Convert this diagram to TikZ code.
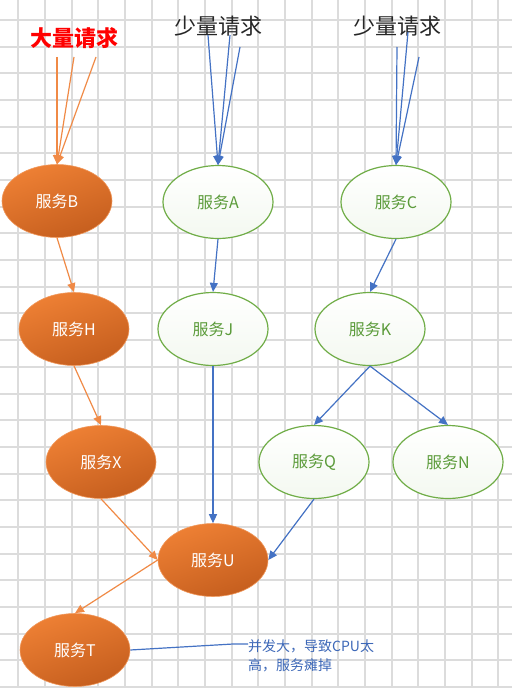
\documentclass[tikz,border=0pt]{standalone}
\usepackage{fontspec}
\setmainfont{Noto Sans CJK SC}
\usetikzlibrary{arrows.meta,shapes.geometric}
\definecolor{gridc}{HTML}{DCDCDC}
\definecolor{orgA}{HTML}{EE8034}
\definecolor{orgB}{HTML}{C55E1E}
\definecolor{orgLine}{HTML}{F08A46}
\definecolor{blueLine}{HTML}{4472C4}
\definecolor{grnB}{HTML}{70AD47}
\definecolor{grnT}{HTML}{5B9B3A}
\definecolor{noteC}{HTML}{3D68B8}
\tikzset{
  hot/.style={ellipse, minimum width=110pt, minimum height=73pt, inner sep=0pt,
    draw=orgA!80!white, line width=0.6pt, top color=orgA, bottom color=orgB, shading angle=20,
    text=white, font=\fontsize{16}{18}\selectfont},
  cool/.style={ellipse, minimum width=110pt, minimum height=73pt, inner sep=0pt,
    draw=grnB, line width=1.2pt, top color=white, bottom color=grnB!8!white,
    text=grnT, font=\fontsize{16}{18}\selectfont},
  hotarrow/.style={draw=orgLine, line width=1.2pt, -{Triangle[length=9pt,width=8pt]}},
  coolarrow/.style={draw=blueLine, line width=1.2pt, -{Triangle[length=9pt,width=8pt]}},
  gridline/.style={draw=gridc, line width=1.5pt},
  toplabel/.style={font=\fontsize{22}{24}\selectfont, inner sep=0pt}
}
\begin{document}
\begin{tikzpicture}[x=1pt,y=-1pt]
\useasboundingbox (0,0) rectangle (512,693);
\fill[white] (0,0) rectangle (512,693);
\foreach \i in {0,...,18} {
  \pgfmathsetmacro{\gx}{round(18.3+26.67*\i)}
  \draw[gridline] (\gx,0) -- (\gx,687);
}
\foreach \j in {0,...,25} {
  \pgfmathsetmacro{\gy}{round(20+26.68*\j)}
  \draw[gridline] (0,\gy) -- (512,\gy);
}

% labels
\node[toplabel, text=red, font=\fontsize{22}{24}\selectfont\bfseries] (big) at (74,38) {大量请求};
\node[toplabel, text=black!85] (s1) at (218,26) {少量请求};
\node[toplabel, text=black!85] (s2) at (397,26) {少量请求};

% nodes
\node[hot]  (B) at (57,201) {服务B};
\node[cool] (A) at (218,202) {服务A};
\node[cool] (C) at (396,202) {服务C};
\node[hot]  (H) at (74,329) {服务H};
\node[cool] (J) at (213,329) {服务J};
\node[cool] (K) at (370,329) {服务K};
\node[hot]  (X) at (101,462) {服务X};
\node[cool] (Q) at (314,462) {服务Q};
\node[cool] (N) at (448,462) {服务N};
\node[hot]  (U) at (213,560) {服务U};
\node[hot]  (T) at (75,650) {服务T};

\node[anchor=west, align=left, inner sep=0pt, text=noteC,
  font=\fontsize{14}{19}\selectfont] (note) at (248,656) {并发大，导致CPU太\\高，服务瘫掉};

% request line starts
\coordinate (o1) at (57,57);
\coordinate (o2) at (74,57);
\coordinate (o3) at (96,57);
\coordinate (a1) at (208,35);
\coordinate (a2) at (230,35);
\coordinate (a3) at (240,47);
\coordinate (c1) at (397,47);
\coordinate (c2) at (408,32);
\coordinate (c3) at (419,57);
\coordinate (bend) at (233,644);

\foreach \p in {o1,o2,o3} \draw[hotarrow] (\p) -- (B.north);
\foreach \p in {a1,a2,a3} \draw[coolarrow] (\p) -- (A.north);
\foreach \p in {c1,c2,c3} \draw[coolarrow] (\p) -- (C.north);

\draw[hotarrow] (B.south) -- (H.north);
\draw[hotarrow] (H.south) -- (X.north);
\draw[hotarrow] (X.south) -- (U.west);
\draw[hotarrow] (U.west) -- (T.north);
\draw[coolarrow] (A.south) -- (J.north);
\draw[coolarrow] (C.south) -- (K.north);
\draw[coolarrow] (J.south) -- (U.north);
\draw[coolarrow] (K.south) -- (Q.north);
\draw[coolarrow] (K.south) -- (N.north);
\draw[coolarrow] (Q.south) -- (U.east);
\draw[draw=blueLine, line width=1.2pt] (T.east) -- (bend) -- (note.west |- bend);
\end{tikzpicture}
\end{document}
